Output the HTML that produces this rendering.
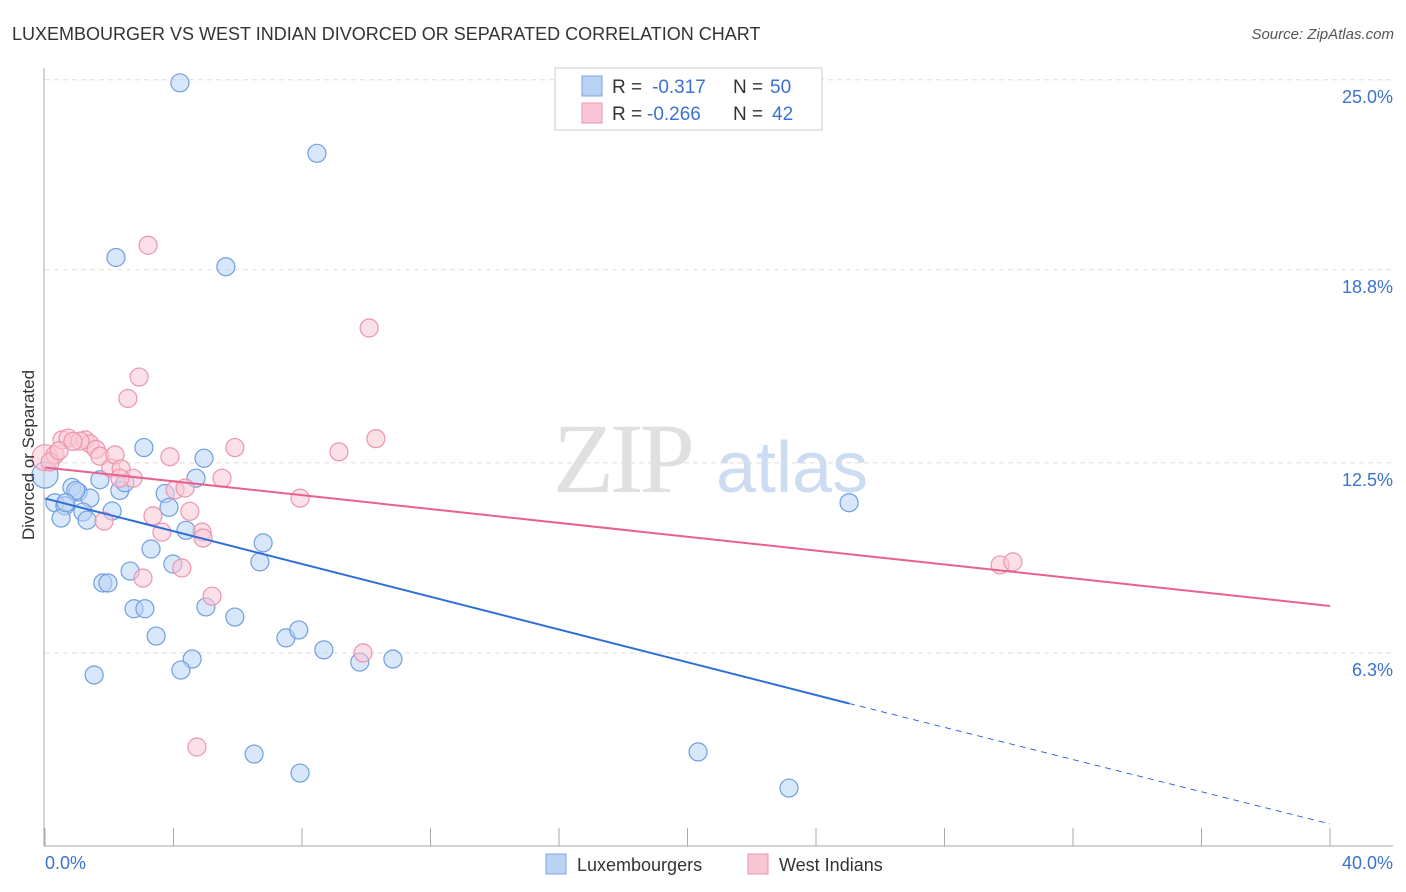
<!DOCTYPE html>
<html><head><meta charset="utf-8"><style>
body{margin:0;background:#fff;font-family:"Liberation Sans",sans-serif;}
svg{display:block}
</style></head><body>
<svg id="chart" width="1406" height="892">
<text x="12" y="40" font-size="18" fill="#333">LUXEMBOURGER VS WEST INDIAN DIVORCED OR SEPARATED CORRELATION CHART</text>
<text x="1394" y="39" font-size="15" fill="#555" text-anchor="end" font-style="italic">Source: ZipAtlas.com</text>
<text x="553" y="492" font-size="100" fill="#e0e0e0" font-family="Liberation Serif" letter-spacing="-4">ZIP</text>
<text x="716" y="492" font-size="72" fill="#ccdcf2">atlas</text>
<g id="grid"></g><g id="axes"></g><g id="pts"></g><g id="lines"></g>
<text x="34" y="455" font-size="17" fill="#333" text-anchor="middle" transform="rotate(-90 34 455)">Divorced or Separated</text>
<text x="45" y="869" font-size="18" fill="#3a73d0">0.0%</text>
<text x="1393" y="869" font-size="18" fill="#3a73d0" text-anchor="end">40.0%</text>
<g>
<rect x="555" y="68" width="267" height="62" fill="#fff" stroke="#ccc"/>
<rect x="582" y="76" width="20" height="20" fill="#b9d3f5" stroke="#7aa3dd"/>
<rect x="582" y="103" width="20" height="20" fill="#f9c6d5" stroke="#e895ad"/>
<text x="612" y="93" font-size="19" fill="#333">R =</text>
<text x="652" y="93" font-size="19" fill="#3a73d0">-0.317</text>
<text x="733" y="93" font-size="19" fill="#333">N =</text>
<text x="770" y="93" font-size="19" fill="#3a73d0">50</text>
<text x="612" y="120" font-size="19" fill="#333">R =</text>
<text x="647" y="120" font-size="19" fill="#3a73d0">-0.266</text>
<text x="733" y="120" font-size="19" fill="#333">N =</text>
<text x="772" y="120" font-size="19" fill="#3a73d0">42</text>
</g>
<g>
<rect x="546" y="854" width="20" height="20" fill="#b9d3f5" stroke="#7aa3dd"/>
<text x="577" y="871" font-size="18" fill="#333">Luxembourgers</text>
<rect x="748" y="854" width="20" height="20" fill="#f9c6d5" stroke="#e895ad"/>
<text x="779" y="871" font-size="18" fill="#333">West Indians</text>
</g>
</svg>
<script>
const yTicks=[25.0,18.8,12.5,6.3];
const xTickVals=[0,4,8,12,16,20,24,28,32,36,40];
const luxX=[4.2,8.465,2.21,5.63,3.08,4.95,4.7,0,0.31,0.62,0.84,1.03,1.4,1.71,2.33,2.49,3.74,3.86,1.18,0.5,1.31,2.09,3.3,4.39,6.79,6.69,3.98,2.65,1.8,1.96,2.77,3.11,5.01,5.91,3.46,7.5,7.9,8.68,9.8,10.83,4.58,4.23,1.53,6.51,7.94,20.33,23.16,25.03,0.96,0.65];
const luxY=[24.9,22.6,19.2,18.9,13.0,12.65,12.0,12.1,11.2,11.1,11.7,11.55,11.35,11.95,11.6,11.85,11.5,11.05,10.9,10.7,10.63,10.93,9.69,10.3,9.89,9.27,9.2,8.97,8.58,8.58,7.74,7.74,7.8,7.47,6.85,6.79,7.05,6.4,6.0,6.1,6.1,5.74,5.58,3.0,2.38,3.07,1.89,11.2,11.6,11.2];
const wiX=[3.21,10.09,2.93,2.58,0,0.31,0.16,0.53,0.72,1.25,1.4,1.09,1.59,1.71,2.05,2.18,2.37,2.74,3.89,4.05,4.36,5.51,5.91,9.15,10.3,7.94,3.36,3.64,4.51,4.89,4.92,4.26,3.05,5.2,9.9,4.73,29.73,30.13,1.84,2.33,0.44,0.87];
const wiY=[19.6,16.9,15.3,14.6,12.67,12.76,12.53,13.25,13.31,13.25,13.12,13.21,12.94,12.72,12.33,12.76,12.3,12.0,12.7,11.62,11.68,12.0,13.0,12.86,13.29,11.35,10.77,10.24,10.92,10.24,10.05,9.07,8.74,8.15,6.3,3.23,9.17,9.27,10.6,12.0,12.9,13.2];
const luxLine=[[0,11.34],[25.03,4.65]];
const luxDash=[[25.03,4.65],[40,0.72]];
const wiLine=[[0,12.35],[40,7.83]];
const X=v=>45+v/40*1285, Y=v=>846-v*30.65;
const NS="http://www.w3.org/2000/svg";
function mk(t,a,p){const e=document.createElementNS(NS,t);for(const k in a)e.setAttribute(k,a[k]);p.appendChild(e);return e;}
const grid=document.getElementById('grid'),axes=document.getElementById('axes'),pts=document.getElementById('pts'),lines=document.getElementById('lines');
yTicks.forEach((v,i)=>{
 const l=mk('line',{x1:45,x2:1393,y1:Y(v),y2:Y(v),stroke:'#ddd','stroke-dasharray':'5,4'},grid);
 
 
 const t=mk('text',{x:1393,y:Y(v)+23,'font-size':18,fill:'#3a73d0','text-anchor':'end'},grid);
 t.textContent=v.toFixed(1)+'%';
 
 
});
const ax=mk('line',{x1:44,x2:44,y1:68,y2:846,stroke:'#aaa'},axes);


const bx=mk('line',{x1:44,x2:1393,y1:846,y2:846,stroke:'#aaa'},axes);


xTickVals.forEach(v=>{
 const t=mk('line',{x1:X(v),x2:X(v),y1:828,y2:846,stroke:'#aaa'},axes);
 
 
});
function dots(xs,ys,fill,stroke,name){xs.forEach((x,i)=>{
 const c=mk('circle',{cx:X(x),cy:Y(ys[i]),r:(x===0?13:9),fill:fill,'fill-opacity':0.55,stroke:stroke,'stroke-width':1.2},pts);
 
 
});}
dots(luxX,luxY,'#b9d3f5','#6f9fe0','luxembourger-point');
dots(wiX,wiY,'#f9c6d5','#eb94ad','west-indian-point');
function ln(p,col,w,dash,name){const l=mk('line',{x1:X(p[0][0]),y1:Y(p[0][1]),x2:X(p[1][0]),y2:Y(p[1][1]),stroke:col,'stroke-width':w},lines);
 if(dash)l.setAttribute('stroke-dasharray',dash);
 
 }
ln(luxLine,'#2e6fd6',2,null,'luxembourger-trendline');
ln(luxDash,'#2e6fd6',1,'6,5','luxembourger-trendline-extension');
ln(wiLine,'#e8608d',2,null,'west-indian-trendline');
</script>
</body></html>
